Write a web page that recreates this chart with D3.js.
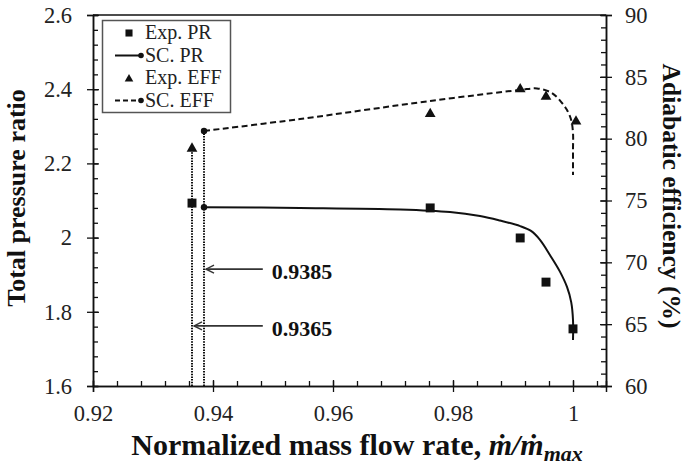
<!DOCTYPE html>
<html>
<head>
<meta charset="utf-8">
<script src="https://cdn.jsdelivr.net/npm/d3@7"></script>
<style>
  body { margin: 0; background: #fff; }
  svg { display: block; font-family: "Liberation Serif", "Times New Roman", serif; }
</style>
</head>
<body>
<div id="chart"></div>
<script>
// experiment, pressure ratio
var expPR_x = [0.9365, 0.9762, 0.9912, 0.9955, 1.0];
var expPR_y = [2.093, 2.080, 1.999, 1.880, 1.754];
// experiment, efficiency
var expEFF_x = [0.9365, 0.9762, 0.9912, 0.9955, 1.0005];
var expEFF_y = [79.2, 82.0, 84.0, 83.4, 81.4];
// simulation, pressure ratio
var scPR_x = [0.9385, 0.9545, 0.9712, 0.9795, 0.9845, 0.9878, 0.9912, 0.9930, 0.9945, 0.9962, 0.9978, 0.9990, 0.9997, 1.0, 1.0];
var scPR_y = [2.082, 2.080, 2.076, 2.069, 2.058, 2.046, 2.031, 2.018, 1.994, 1.952, 1.909, 1.867, 1.826, 1.778, 1.724];
// simulation, efficiency
var scEFF_x = [0.9385, 0.9545, 0.9762, 0.9912, 0.9940, 0.9962, 0.9973, 0.9983, 0.9990, 0.9997, 1.0, 1.0, 1.0];
var scEFF_y = [80.62, 81.59, 83.05, 83.94, 84.06, 83.77, 83.37, 82.80, 82.32, 81.51, 80.46, 79.08, 77.06];

var xTicks = [0.92, 0.94, 0.96, 0.98, 1.0];
var yTicks = [1.6, 1.8, 2.0, 2.2, 2.4, 2.6];
var y2Ticks = [60, 65, 70, 75, 80, 85, 90];
var legendLabels = ["Exp. PR", "SC. PR", "Exp. EFF", "SC. EFF"];
var markLines = [{ v: 0.9385, at: 1.915 }, { v: 0.9365, at: 1.762 }];

var W = 688, H = 468;
var m = { left: 93, right: 606, top: 15, bottom: 386 };
var ink = "#111";

var svg = d3.select("#chart").append("svg").attr("width", W).attr("height", H);

var x = d3.scaleLinear().domain([0.92, 1.0055]).range([m.left, m.right]);
var y = d3.scaleLinear().domain([1.6, 2.6]).range([m.bottom, m.top]);
var y2 = d3.scaleLinear().domain([60, 90]).range([m.bottom, m.top]);

function fmt(d) { return d3.format("")(+d.toFixed(2)); }

// frame: top line
svg.append("line").attr("x1", m.left).attr("x2", m.right).attr("y1", m.top).attr("y2", m.top)
	.attr("stroke", ink).attr("stroke-width", 1.5);

// bottom axis, minor ticks inside and major ticks crossing
var gx = svg.append("g").attr("transform", "translate(0," + m.bottom + ")");
gx.call(d3.axisBottom(x).tickValues(d3.range(0.924, 1.0055, 0.004)).tickSize(-5).tickFormat(""));
var gxMaj = svg.append("g").attr("transform", "translate(0," + m.bottom + ")");
gxMaj.call(d3.axisBottom(x).tickValues(xTicks).tickSize(6).tickPadding(13).tickFormat(fmt));
gxMaj.selectAll(".tick line").attr("y1", -6);

// left axis
var gy = svg.append("g").attr("transform", "translate(" + m.left + ",0)");
gy.call(d3.axisLeft(y).tickValues(d3.range(1.64, 2.6, 0.04)).tickSize(-5).tickFormat(""));
var gyMaj = svg.append("g").attr("transform", "translate(" + m.left + ",0)");
gyMaj.call(d3.axisLeft(y).tickValues(yTicks).tickSize(6).tickPadding(15).tickFormat(fmt));
gyMaj.selectAll(".tick line").attr("x1", 6);

// right axis
var gy2 = svg.append("g").attr("transform", "translate(" + m.right + ",0)");
gy2.call(d3.axisRight(y2).tickValues(d3.range(61, 90, 1)).tickSize(-5).tickFormat(""));
var gy2Maj = svg.append("g").attr("transform", "translate(" + m.right + ",0)");
gy2Maj.call(d3.axisRight(y2).tickValues(y2Ticks).tickSize(6).tickPadding(13).tickFormat(d3.format("d")));
gy2Maj.selectAll(".tick line").attr("x1", -6);

svg.selectAll(".domain").attr("stroke", ink).attr("stroke-width", 1.5);
svg.selectAll(".tick line").attr("stroke", ink).attr("stroke-width", 1.3);
svg.selectAll(".tick text").attr("fill", "#222").style("font-size", "22.5px")
	.style("font-family", "'Liberation Serif', serif");

// axis titles
svg.append("text")
	.attr("transform", "translate(25,198) rotate(-90)")
	.attr("text-anchor", "middle").attr("font-weight", "bold").attr("font-size", 26)
	.attr("fill", ink).text("Total pressure ratio");

svg.append("text")
	.attr("transform", "translate(663,196) rotate(90)")
	.attr("text-anchor", "middle").attr("font-weight", "bold").attr("font-size", 25.5)
	.attr("fill", ink).text("Adiabatic efficiency (%)");

var xt = svg.append("text").attr("x", 357).attr("y", 455)
	.attr("text-anchor", "middle").attr("font-weight", "bold").attr("font-size", 30).attr("fill", ink);
xt.append("tspan").text("Normalized mass flow rate, ");
xt.append("tspan").attr("font-style", "italic").text("\u1E41/\u1E41");
xt.append("tspan").attr("font-style", "italic").attr("font-size", 22).attr("dy", 6).text("max");

// vertical dotted guide lines
svg.append("line").attr("x1", x(0.9365)).attr("x2", x(0.9365))
	.attr("y1", m.bottom).attr("y2", y2(expEFF_y[0]))
	.attr("stroke", ink).attr("stroke-width", 2).attr("stroke-dasharray", "1.5,1.2");
svg.append("line").attr("x1", x(0.9385)).attr("x2", x(0.9385))
	.attr("y1", m.bottom).attr("y2", y2(scEFF_y[0]))
	.attr("stroke", ink).attr("stroke-width", 2).attr("stroke-dasharray", "1.5,1.2");

// arrows with labels
markLines.forEach(function(d) {
	var tipX = x(d.v) + 2, py = y(d.at), endX = x(0.9483);
	svg.append("line").attr("x1", tipX).attr("x2", endX).attr("y1", py).attr("y2", py)
		.attr("stroke", "#333").attr("stroke-width", 1.6);
	svg.append("path").attr("d", "M" + (tipX + 8) + "," + (py - 4) + "L" + tipX + "," + py + "L" + (tipX + 8) + "," + (py + 4))
		.attr("fill", "none").attr("stroke", "#333").attr("stroke-width", 1.4);
	svg.append("text").attr("x", endX + 9).attr("y", py + 10)
		.attr("font-weight", "bold").attr("font-size", 22).attr("fill", ink).text(d.v.toFixed(4));
});

// simulation curves
var lineGen = d3.line().curve(d3.curveCatmullRom.alpha(0.5));
svg.append("path")
	.attr("d", lineGen(scPR_x.map(function(v, i) { return [x(v), y(scPR_y[i])]; })))
	.attr("fill", "none").attr("stroke", ink).attr("stroke-width", 2);
svg.append("path")
	.attr("d", lineGen(scEFF_x.map(function(v, i) { return [x(v), y2(scEFF_y[i])]; })))
	.attr("fill", "none").attr("stroke", ink).attr("stroke-width", 2).attr("stroke-dasharray", "6,3.5");
svg.append("circle").attr("cx", x(scPR_x[0])).attr("cy", y(scPR_y[0])).attr("r", 3.2).attr("fill", ink);
svg.append("circle").attr("cx", x(scEFF_x[0])).attr("cy", y2(scEFF_y[0])).attr("r", 3.2).attr("fill", ink);

// experimental markers
var sq = d3.symbol().type(d3.symbolSquare).size(80);
var tri = d3.symbol().type(d3.symbolTriangle).size(50);
expPR_x.forEach(function(v, i) {
	svg.append("path").attr("d", sq).attr("fill", ink)
		.attr("transform", "translate(" + x(v) + "," + y(expPR_y[i]) + ")");
});
expEFF_x.forEach(function(v, i) {
	svg.append("path").attr("d", tri).attr("fill", ink)
		.attr("transform", "translate(" + x(v) + "," + y2(expEFF_y[i]) + ")");
});

// legend
var lg = svg.append("g");
lg.append("rect").attr("x", 102.5).attr("y", 20.5).attr("width", 128).attr("height", 92)
	.attr("fill", "#fff").attr("stroke", "#555").attr("stroke-width", 1.5);
legendLabels.forEach(function(label, i) {
	var ry = 33 + i * 22.5;
	if (i === 0) lg.append("path").attr("d", d3.symbol().type(d3.symbolSquare).size(50)).attr("fill", ink)
		.attr("transform", "translate(129," + ry + ")");
	if (i === 2) lg.append("path").attr("d", d3.symbol().type(d3.symbolTriangle).size(32)).attr("fill", ink)
		.attr("transform", "translate(129," + (ry + 1) + ")");
	if (i === 1 || i === 3) {
		lg.append("line").attr("x1", 115).attr("x2", 141).attr("y1", ry).attr("y2", ry)
			.attr("stroke", ink).attr("stroke-width", 2).attr("stroke-dasharray", i === 3 ? "5,3" : null);
		lg.append("circle").attr("cx", 141).attr("cy", ry).attr("r", 2.8).attr("fill", ink);
	}
	lg.append("text").attr("x", 145).attr("y", ry + 6).attr("font-size", 20).attr("fill", "#222").text(label);
});
</script>
</body>
</html>
